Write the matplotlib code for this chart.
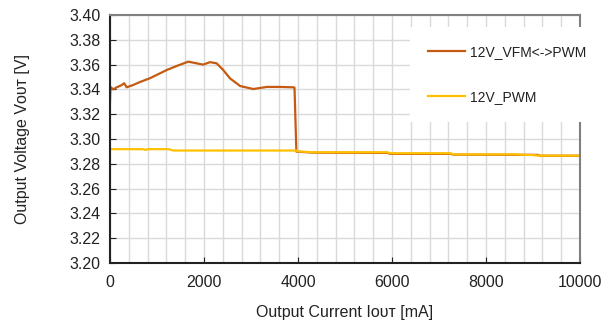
import matplotlib
matplotlib.use("Agg")
import matplotlib.pyplot as plt
from matplotlib.ticker import MultipleLocator

plt.rcParams['font.family'] = ['Liberation Sans', 'DejaVu Sans']

# 12V VFM<->PWM (mA, V)
vfm_i = [0, 10, 70, 143, 250, 300, 355, 490, 640, 850, 1205, 1420, 1665, 1845,
         1980, 2130, 2270, 2410, 2550, 2770, 3050, 3335, 3615, 3890, 3925,
         3965, 4330, 5900, 5960, 7250, 7300, 9100, 9150, 10000]
vfm_v = [3.330, 3.342, 3.340, 3.3417, 3.3435, 3.345, 3.3417, 3.3435, 3.346,
         3.349, 3.3556, 3.3589, 3.3624, 3.361, 3.360, 3.362, 3.361, 3.3556,
         3.349, 3.3427, 3.3403, 3.342, 3.342, 3.3417, 3.3415,
         3.2898, 3.2890, 3.2888, 3.2880, 3.2880, 3.2874, 3.2872, 3.2865, 3.2865]

# 12V PWM
pwm_i = [0, 700, 760, 800, 1250, 1300, 1350, 3960, 4000, 4330, 5900, 5960,
         7250, 7300, 8600, 9000, 9100, 10000]
pwm_v = [3.2918, 3.2918, 3.2912, 3.2918, 3.2918, 3.2912, 3.2907, 3.2907,
         3.2900, 3.2893, 3.2893, 3.2885, 3.2885, 3.2876, 3.2876, 3.2870,
         3.2866, 3.2866]

fig = plt.figure(figsize=(6.05, 3.25), dpi=100)
ax = fig.add_axes([0.1818, 0.1908, 0.777, 0.763])

ax.plot(vfm_i, vfm_v, color='#C55A11', lw=1.6, label='12V_VFM<->PWM')
ax.plot(pwm_i, pwm_v, color='#FFC000', lw=1.6, label='12V_PWM')

ax.set_xlim(0, 10000)
ax.set_ylim(3.20, 3.40)
ax.xaxis.set_major_locator(MultipleLocator(2000))
ax.xaxis.set_minor_locator(MultipleLocator(400))
ax.yaxis.set_major_locator(MultipleLocator(0.02))
ax.yaxis.set_major_formatter(matplotlib.ticker.FormatStrFormatter('%.2f'))
ax.grid(which='both', color='#d9d9d9', lw=1)
ax.set_axisbelow(True)
ax.tick_params(which='major', direction='in', length=4, labelsize=11.5, colors='#222222')
ax.tick_params(which='minor', direction='in', length=0)
ax.tick_params(axis='x', pad=9)
ax.tick_params(axis='y', pad=7)

for s in ['left', 'bottom']:
    ax.spines[s].set_color('#222222')
    ax.spines[s].set_linewidth(1.5)
for s in ['top', 'right']:
    ax.spines[s].set_color('#808080')
    ax.spines[s].set_linewidth(1.5)

ax.set_xlabel('Output Current I\u1d0f\u1d1c\u1d1b [mA]', fontsize=11.5, labelpad=10.5, color='#222222')
ax.set_ylabel('Output Voltage V\u1d0f\u1d1c\u1d1b [V]', fontsize=11.5, labelpad=28, color='#222222')

leg = ax.legend(loc='upper left', bbox_to_anchor=(0.638, 0.952), fontsize=10,
                frameon=True, facecolor='white', edgecolor='none', framealpha=1,
                fancybox=False, handlelength=2.66, handletextpad=0.36,
                labelspacing=2.2, borderpad=1.3, borderaxespad=0)
for t in leg.get_texts():
    t.set_color('#222222')

fig.savefig('out.png', dpi=100)
